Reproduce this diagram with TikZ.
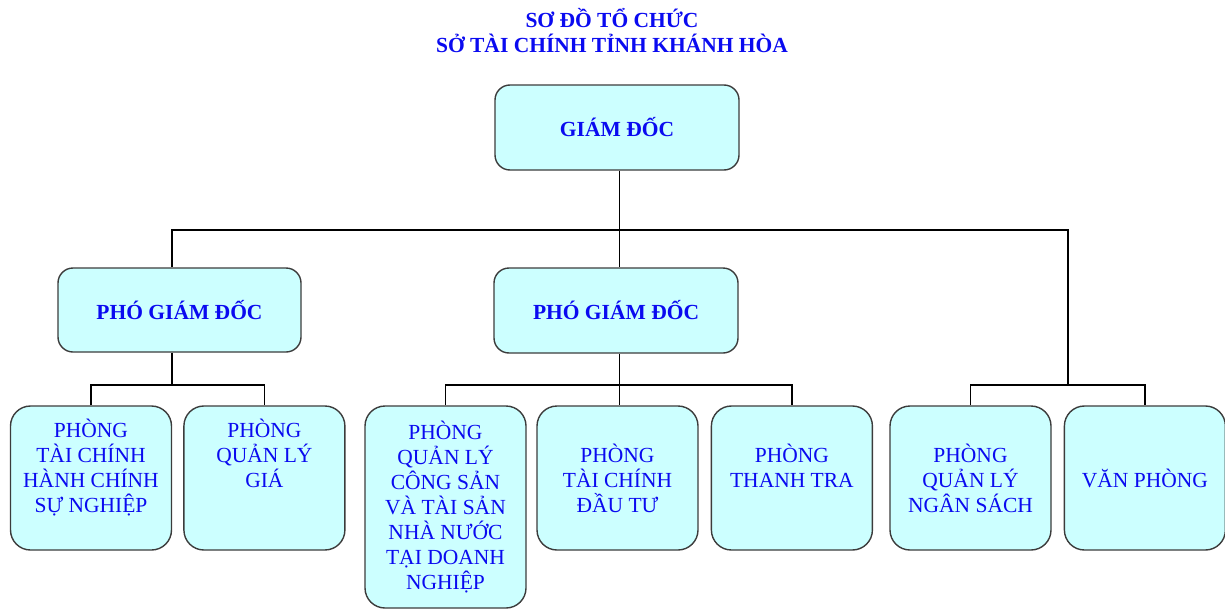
\documentclass[tikz,border=0pt]{standalone}
\usepackage{fontspec}
\setmainfont{Liberation Serif}
\usetikzlibrary{positioning}

\definecolor{boxfill}{RGB}{204,255,255}
\definecolor{boxline}{RGB}{60,60,60}
\definecolor{txtblue}{RGB}{10,10,240}

\begin{document}
\begin{tikzpicture}[x=1pt,y=-1pt,
    head/.style={draw=boxline,line width=1.4pt,fill=boxfill,rounded corners=15pt,
      minimum width=244pt,minimum height=85pt,inner sep=0pt,align=center,
      text=txtblue,font=\fontsize{21.5}{25}\selectfont\bfseries},
    unit/.style={draw=boxline,line width=1.4pt,fill=boxfill,rounded corners=20pt,
      minimum width=161pt,minimum height=144pt,inner sep=0pt,align=center,
      text=txtblue,font=\fontsize{21.5}{25}\selectfont},
    link/.style={line width=1.3pt}]
  \useasboundingbox (0,0) rectangle (1225,610);
  \node[text=txtblue,align=center,font=\fontsize{21.5}{25}\selectfont\bfseries] (title) at (612,31)
    {SƠ ĐỒ TỔ CHỨC\\SỞ TÀI CHÍNH TỈNH KHÁNH HÒA};
  \node[head] (gd) at (617,127.5) {GIÁM ĐỐC};
  \node[head,minimum width=243pt,minimum height=84pt] (pgd1) at (179.5,310) {PHÓ GIÁM ĐỐC};
  \node[head] (pgd2) at (616,310.5) {PHÓ GIÁM ĐỐC};
  \node[unit] (p1) at (91,478) {PHÒNG\\TÀI CHÍNH\\HÀNH CHÍNH\\SỰ NGHIỆP\\~};
  \node[unit,right=11pt of p1] (p2) {PHÒNG\\QUẢN LÝ\\GIÁ\\~\\~};
  \node[unit,minimum height=202pt] (p3) at (445.5,507)
    {PHÒNG\\QUẢN LÝ\\CÔNG SẢN\\VÀ TÀI SẢN\\NHÀ NƯỚC\\TẠI DOANH\\NGHIỆP};
  \node[unit] (p4) at (617.5,478) {PHÒNG\\TÀI CHÍNH\\ĐẦU TƯ};
  \node[unit,right=12pt of p4] (p5) {PHÒNG\\THANH TRA\\~};
  \node[unit] (p6) at (970.5,478) {PHÒNG\\QUẢN LÝ\\NGÂN SÁCH};
  \node[unit,right=12pt of p6] (p7) {VĂN PHÒNG};

  \coordinate (bus) at (619.5,230);
  \coordinate (busL) at (172,385);
  \coordinate (busC) at (619.5,385);
  \coordinate (busR) at (1068,385);
  \draw[link] (gd.south -| bus) -- (bus);
  \draw[link] ([xshift=-7.5pt]pgd1.north) |- (bus) -| (busR);
  \draw[link] (bus) -- (bus |- pgd2.north);
  \draw[link] (pgd1.south -| busL) -- (busL);
  \draw[link] (p1.north) |- (busL) -| (p2.north);
  \draw[link] (pgd2.south -| busC) -- (busC);
  \draw[link] (p3.north) |- (busC) -| (p5.north);
  \draw[link] (busC) -- (busC |- p4.north);
  \draw[link] (p6.north) |- (busR) -| (p7.north);
\end{tikzpicture}
\end{document}
